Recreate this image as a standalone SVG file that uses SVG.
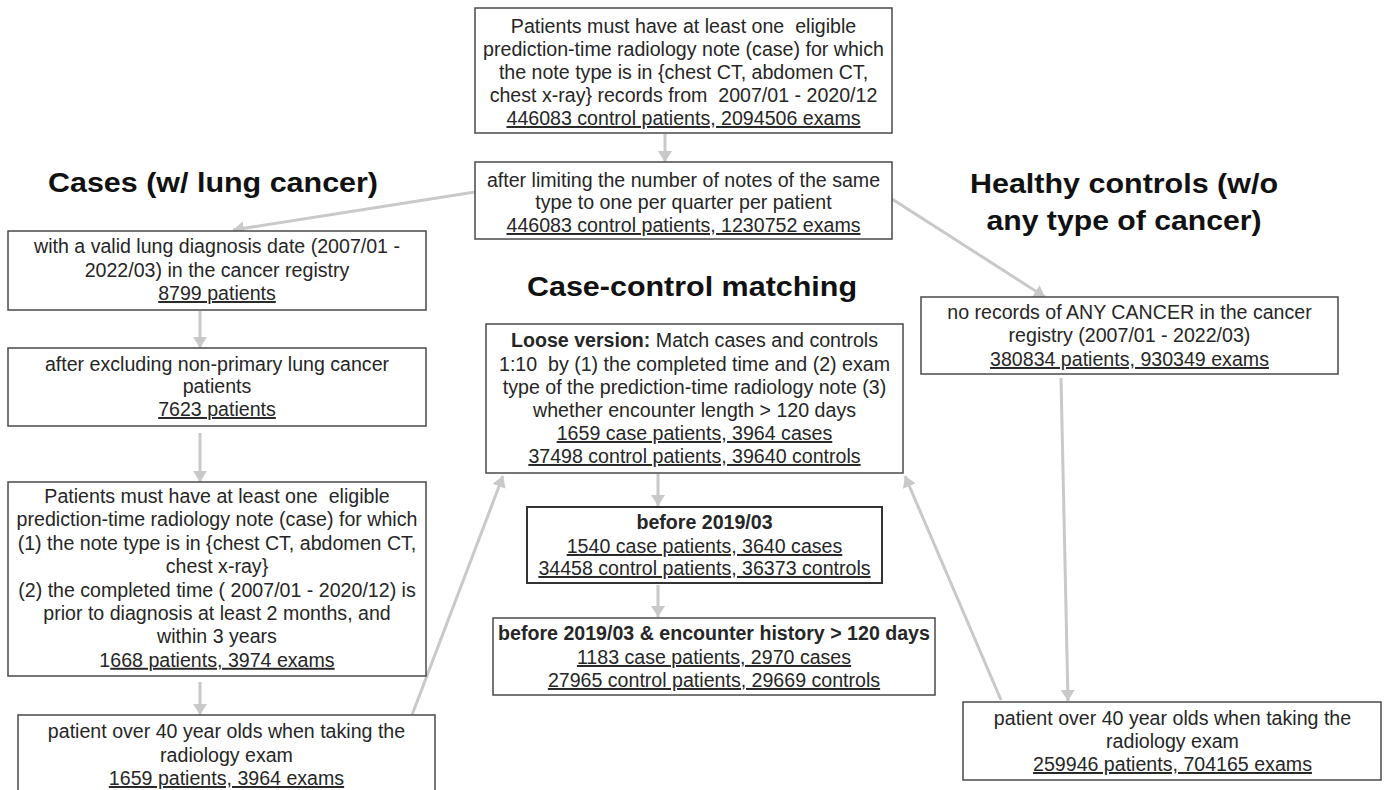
<svg xmlns="http://www.w3.org/2000/svg" width="1384" height="790" viewBox="0 0 1384 790">
  <defs>
    <marker id="arrow" markerUnits="userSpaceOnUse" markerWidth="16" markerHeight="16" viewBox="0 0 16 16" refX="11" refY="8" orient="auto">
      <path d="M0,1 L11,8 L0,15 z" fill="#c9c9c9"/>
    </marker>
    <style>
      .box { fill: #ffffff; stroke: #4a4a4a; stroke-width: 1.5; }
      .box-strong { fill: #ffffff; stroke: #333333; stroke-width: 2; }
      .t { font-family: "Liberation Sans", Arial, sans-serif; font-size: 19.6px; fill: #262626; text-anchor: middle; white-space: pre; }
      .b { font-weight: bold; }
      .u { text-decoration: underline; }
      .h { font-family: "Liberation Sans", Arial, sans-serif; font-size: 28px; font-weight: bold; fill: #111111; text-anchor: middle; }
      .edge { fill: none; stroke: #c9c9c9; stroke-width: 3; marker-end: url(#arrow); }
    </style>
  </defs>
  <rect width="1384" height="790" fill="#ffffff"/>

  <!-- section headings -->
  <g id="headings">
    <text class="h" x="213" y="192" textLength="330" lengthAdjust="spacingAndGlyphs">Cases (w/ lung cancer)</text>
    <text class="h" x="692" y="296" textLength="330" lengthAdjust="spacingAndGlyphs">Case-control matching</text>
    <text class="h" x="1124" y="193" textLength="308" lengthAdjust="spacingAndGlyphs">Healthy controls (w/o</text>
    <text class="h" x="1124" y="230" textLength="275" lengthAdjust="spacingAndGlyphs">any type of cancer)</text>
  </g>

  <!-- connectors -->
  <g id="connectors">
    <line class="edge" x1="665" y1="134" x2="665" y2="162"/>
    <line class="edge" x1="475" y1="192" x2="233" y2="230"/>
    <line class="edge" x1="892" y1="199" x2="1045" y2="297"/>
    <line class="edge" x1="200" y1="311" x2="200" y2="348"/>
    <line class="edge" x1="200" y1="433" x2="200" y2="482"/>
    <line class="edge" x1="200" y1="682" x2="200" y2="715"/>
    <line class="edge" x1="412" y1="715" x2="503" y2="476"/>
    <line class="edge" x1="658" y1="474" x2="658" y2="506"/>
    <line class="edge" x1="658" y1="585" x2="658" y2="617"/>
    <line class="edge" x1="1061" y1="378" x2="1068" y2="701"/>
    <line class="edge" x1="1001" y1="700" x2="905" y2="476"/>
  </g>

  <!-- all eligible patients -->
  <g id="all-patients">
    <rect class="box" x="475" y="8" width="417" height="125"/>
    <text class="t" x="683.5" y="33">Patients must have at least one  eligible</text>
    <text class="t" x="683.5" y="56">prediction-time radiology note (case) for which</text>
    <text class="t" x="683.5" y="79">the note type is in {chest CT, abdomen CT,</text>
    <text class="t" x="683.5" y="102">chest x-ray} records from  2007/01 - 2020/12</text>
    <text class="t u" x="683.5" y="125">446083 control patients, 2094506 exams</text>
  </g>

  <g id="one-per-quarter">
    <rect class="box" x="475" y="162" width="417" height="77"/>
    <text class="t" x="683.5" y="187">after limiting the number of notes of the same</text>
    <text class="t" x="683.5" y="209">type to one per quarter per patient</text>
    <text class="t u" x="683.5" y="232">446083 control patients, 1230752 exams</text>
  </g>

  <!-- cases -->
  <g id="case-diagnosis">
    <rect class="box" x="8" y="231" width="418" height="79"/>
    <text class="t" x="217" y="253">with a valid lung diagnosis date (2007/01 -</text>
    <text class="t" x="217" y="277">2022/03) in the cancer registry</text>
    <text class="t u" x="217" y="300">8799 patients</text>
  </g>

  <g id="case-primary">
    <rect class="box" x="8" y="348" width="418" height="78"/>
    <text class="t" x="217" y="371">after excluding non-primary lung cancer</text>
    <text class="t" x="217" y="393">patients</text>
    <text class="t u" x="217" y="416">7623 patients</text>
  </g>

  <g id="case-eligible-note">
    <rect class="box" x="8" y="482" width="418" height="194"/>
    <text class="t" x="217" y="503">Patients must have at least one  eligible</text>
    <text class="t" x="217" y="526.4">prediction-time radiology note (case) for which</text>
    <text class="t" x="217" y="549.8">(1) the note type is in {chest CT, abdomen CT,</text>
    <text class="t" x="217" y="573.2">chest x-ray}</text>
    <text class="t" x="217" y="596.6">(2) the completed time ( 2007/01 - 2020/12) is</text>
    <text class="t" x="217" y="620">prior to diagnosis at least 2 months, and</text>
    <text class="t" x="217" y="643.4">within 3 years</text>
    <text class="t" x="217" y="666.8">1<tspan class="u">668 patients, 3974 exams</tspan></text>
  </g>

  <g id="case-age">
    <rect class="box" x="18" y="715" width="417" height="90"/>
    <text class="t" x="226.5" y="738">patient over 40 year olds when taking the</text>
    <text class="t" x="226.5" y="762">radiology exam</text>
    <text class="t u" x="226.5" y="785">1659 patients, 3964 exams</text>
  </g>

  <!-- matching -->
  <g id="match-loose">
    <rect class="box" x="486" y="324" width="417" height="149"/>
    <text class="t" x="694.5" y="347"><tspan class="b">Loose version:</tspan> Match cases and controls</text>
    <text class="t" x="694.5" y="371">1:10  by (1) the completed time and (2) exam</text>
    <text class="t" x="694.5" y="394">type of the prediction-time radiology note (3)</text>
    <text class="t" x="694.5" y="417">whether encounter length &gt; 120 days</text>
    <text class="t u" x="694.5" y="440">1659 case patients, 3964 cases</text>
    <text class="t u" x="694.5" y="463">37498 control patients, 39640 controls</text>
  </g>

  <g id="match-before-2019">
    <rect class="box-strong" x="527" y="507" width="355" height="76"/>
    <text class="t b" x="704.5" y="529">before 2019/03</text>
    <text class="t u" x="704.5" y="553">1540 case patients, 3640 cases</text>
    <text class="t u" x="704.5" y="575">34458 control patients, 36373 controls</text>
  </g>

  <g id="match-history">
    <rect class="box" x="493" y="618" width="442" height="77"/>
    <text class="t b" x="714" y="640">before 2019/03 &amp; encounter history &gt; 120 days</text>
    <text class="t u" x="714" y="664">1183 case patients, 2970 cases</text>
    <text class="t u" x="714" y="687">27965 control patients, 29669 controls</text>
  </g>

  <!-- healthy controls -->
  <g id="control-no-cancer">
    <rect class="box" x="921" y="297" width="417" height="77"/>
    <text class="t" x="1129.5" y="319">no records of ANY CANCER in the cancer</text>
    <text class="t" x="1129.5" y="342">registry (2007/01 - 2022/03)</text>
    <text class="t u" x="1129.5" y="366">380834 patients, 930349 exams</text>
  </g>

  <g id="control-age">
    <rect class="box" x="963" y="702" width="418" height="78"/>
    <text class="t" x="1172.5" y="725">patient over 40 year olds when taking the</text>
    <text class="t" x="1172.5" y="748">radiology exam</text>
    <text class="t u" x="1172.5" y="771">259946 patients, 704165 exams</text>
  </g>
</svg>
